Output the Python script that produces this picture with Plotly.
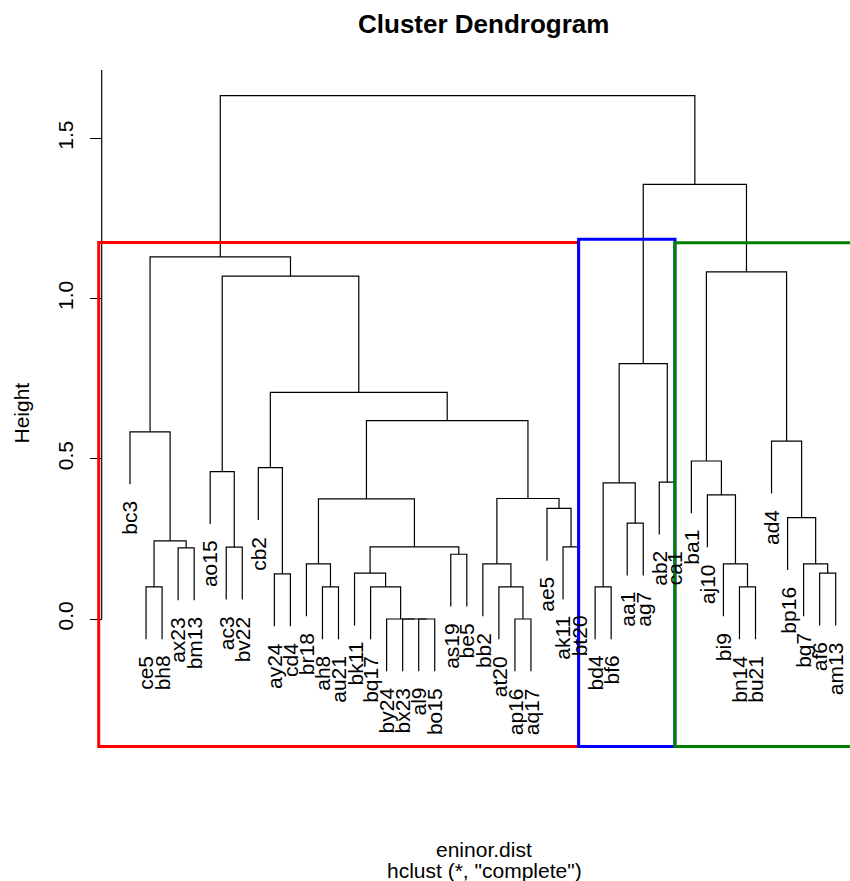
import plotly.graph_objects as go

# ---------------- data ----------------
leaf_labels = ["bc3", "ce5", "bh8", "ax23", "bm13", "ao15", "ac3", "bv22", "cb2",
               "ay24", "cd4", "br18", "ah8", "au21", "bk11", "bq17", "by24", "bx23",
               "al9", "bo15", "as19", "be5", "bb2", "at20", "ap16", "aq17", "ae5",
               "ak11", "bt20", "bd4", "bf6", "aa1", "ag7", "ab2", "ca1", "ba1",
               "aj10", "bi9", "bn14", "bu21", "ad4", "bp16", "bg7", "af6", "am13"]

# merge steps: strings are leaves, ints refer to earlier merge rows (1-based)
merge_left = ["al9", "bx23", "by24", "ap16", "ce5", "ah8", "bq17", "at20", "bd4",
              "bn14", "ay24", "bk11", "af6", "br18", "bb2", "bi9", "bg7", "as19",
              "ax23", "ac3", 12, "ak11", 5, "aa1", "bp16", "ae5", 14, 15, "aj10",
              9, "ab2", "ao15", "cb2", "ba1", "ad4", "bc3", 27, 33, 30, 32, 34,
              36, 39, 42]
merge_right = ["bo15", 1, 2, "aq17", "bh8", "au21", 3, 4, "bf6",
               "bu21", "cd4", 7, "am13", 6, 8, 10, 13, "be5",
               "bm13", "bv22", 18, "bt20", 19, "ag7", 17, 22, 21, 26, 16,
               24, "ca1", 20, 11, 29, 25, 23, 28, 37, 31, 38, 35,
               40, 41, 43]
merge_height = [0.0, 0.0, 0.0, 0.0, 0.100, 0.100, 0.100, 0.100, 0.100,
                0.100, 0.141, 0.143, 0.143, 0.172, 0.172, 0.172, 0.172, 0.202,
                0.222, 0.224, 0.225, 0.225, 0.244, 0.299, 0.316, 0.345, 0.375, 0.376, 0.387,
                0.425, 0.427, 0.460, 0.472, 0.493, 0.555, 0.584, 0.619, 0.707, 0.797,
                1.070, 1.083, 1.130, 1.356, 1.633]

cluster_sizes = [29, 6, 10]
cluster_colors = ["#FF0000", "#0000FF", "#008000"]
cluster_rect_tops = [1.175, 1.185, 1.174]
rect_bottom = -0.398

y_tick_vals = [0.0, 0.5, 1.0, 1.5]
y_tick_text = ["0.0", "0.5", "1.0", "1.5"]

title_text = "Cluster Dendrogram"
xlab_line1 = "eninor.dist"
xlab_line2 = 'hclust (*, "complete")'
ylab_text = "Height"

# ---------------- layout constants ----------------
W, H = 850, 881
X_RANGE = [-7.1054, 45.8917]
Y_RANGE = [-0.81747, 1.93136]
AXIS_POS = 101.7 / W
FONT = "Liberation Sans, Arial, Helvetica, sans-serif"
hang = 0.1 * max(merge_height)

leaf_x = {lab: i + 1 for i, lab in enumerate(leaf_labels)}

node_x, node_h = {}, {}
xs, ys = [], []
leaf_end = {}


def child_info(c, parent_h):
    if isinstance(c, str):
        y_end = parent_h - hang
        leaf_end[c] = y_end
        return leaf_x[c], y_end
    return node_x[c], node_h[c]


for k, (a, b, h) in enumerate(zip(merge_left, merge_right, merge_height), start=1):
    xa, ya = child_info(a, h)
    xb, yb = child_info(b, h)
    xs += [xa, xa, xb, xb, None]
    ys += [ya, h, h, yb, None]
    node_x[k] = (xa + xb) / 2
    node_h[k] = h

fig = go.Figure()
fig.add_trace(go.Scatter(x=xs, y=ys, mode="lines",
                         line=dict(color="#000000", width=1.2),
                         hoverinfo="skip", showlegend=False))

# cluster rectangles
start = 0
n_leaves = len(leaf_labels)
for i, (size, col, top) in enumerate(zip(cluster_sizes, cluster_colors, cluster_rect_tops)):
    left = -0.951 if i == 0 else start - 0.03
    right = start + size - 0.03 if i < len(cluster_sizes) - 1 else n_leaves + 3
    if i == 1:
        right = start + size - 0.02
    fig.add_shape(type="rect", xref="x", yref="y", x0=left, x1=right,
                  y0=rect_bottom, y1=top, line=dict(color=col, width=3),
                  fillcolor="rgba(0,0,0,0)", layer="above")
    start += size

# y axis line (R style: from 0 upwards)
fig.add_shape(type="line", xref="paper", yref="y", x0=AXIS_POS, x1=AXIS_POS,
              y0=0, y1=1.713, line=dict(color="#000000", width=1.2), layer="below")

annotations = []
for lab in leaf_labels:
    annotations.append(dict(x=leaf_x[lab], y=leaf_end[lab], xref="x", yref="y",
                            text=lab, showarrow=False, textangle=-90,
                            xanchor="center", yanchor="top", yshift=-14.5,
                            font=dict(family=FONT, size=21, color="#000000")))

annotations.append(dict(x=483 / W, y=1 - 24 / H, xref="paper", yref="paper",
                        text="<b>" + title_text + "</b>", showarrow=False,
                        xanchor="center", yanchor="middle",
                        font=dict(family=FONT, size=26, color="#000000")))
annotations.append(dict(x=484 / W, y=1 - 849 / H, xref="paper", yref="paper",
                        text=xlab_line1, showarrow=False,
                        xanchor="center", yanchor="middle",
                        font=dict(family=FONT, size=21, color="#000000")))
annotations.append(dict(x=484 / W, y=1 - 870.5 / H, xref="paper", yref="paper",
                        text=xlab_line2, showarrow=False,
                        xanchor="center", yanchor="middle",
                        font=dict(family=FONT, size=21, color="#000000")))
annotations.append(dict(x=20.5 / W, y=1 - 413 / H, xref="paper", yref="paper",
                        text=ylab_text, showarrow=False, textangle=-90,
                        xanchor="center", yanchor="middle",
                        font=dict(family=FONT, size=21, color="#000000")))

fig.update_layout(
    width=W, height=H,
    margin=dict(l=0, r=0, t=0, b=0, autoexpand=False),
    paper_bgcolor="white", plot_bgcolor="white",
    showlegend=False,
    annotations=annotations,
    xaxis=dict(range=X_RANGE, visible=False, fixedrange=True),
    yaxis=dict(range=Y_RANGE, anchor="free", position=AXIS_POS,
               showline=False, showgrid=False, zeroline=False,
               tickvals=y_tick_vals, ticktext=y_tick_text,
               ticks="outside", ticklen=12, tickwidth=1.2, tickcolor="#000000",
               tickangle=-90, ticklabelstandoff=8, automargin=False,
               tickfont=dict(family=FONT, size=21, color="#000000"),
               fixedrange=True),
)

fig.write_html("out.html")
